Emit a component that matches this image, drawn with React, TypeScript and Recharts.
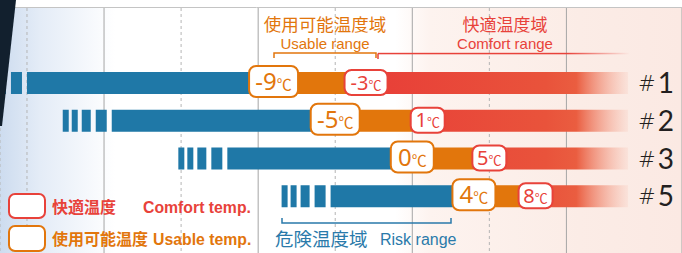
import React from 'react';
import { BarChart, Bar, XAxis, YAxis, CartesianGrid, LabelList } from 'recharts';

const categories = ['#1', '#2', '#3', '#5'];
const riskStart = [-25, -19.5, -12, -5.3];
const usableTemp = [-9, -5, 0, 4];
const comfortTemp = [-3, 1, 5, 8];
const comfortEnd = [14, 14, 14, 14];
const gridTicks = [-25, -20, -15, -10, -5, 0, 5, 10];

const BLUE = '#1f78a7';
const ORANGE = '#e2760c';
const RED = '#e8423a';

const data = categories.map((name, i) => ({
  name,
  risk: [riskStart[i], usableTemp[i]],
  usable: [usableTemp[i], comfortTemp[i]],
  comfort: [comfortTemp[i], comfortEnd[i]],
  usableT: usableTemp[i],
  comfortT: comfortTemp[i],
}));

// blue bar: four broken stripes before the solid part
const RiskShape = (p: any) => {
  const { x, y, width, height } = p;
  const stripes = [[-49, -43], [-40, -34], [-30, -21], [-16, -5]];
  return (
    <g>
      {stripes.map(([a, b], i) => (
        <rect key={i} x={x + a} y={y} width={b - a} height={height} fill={BLUE} />
      ))}
      <rect x={x} y={y} width={width} height={height} fill={BLUE} />
    </g>
  );
};

const boxBox = (p: any) => {
  const vb = p.viewBox || {};
  const x = p.x ?? vb.x;
  const y = p.y ?? vb.y;
  const w = p.width ?? vb.width;
  const h = p.height ?? vb.height;
  return { x, y, w, h };
};

const tempBox = (kind: 'usable' | 'comfort') => (p: any) => {
  const { x, y, h } = boxBox(p);
  const value = kind === 'usable' ? usableTemp[p.index] : comfortTemp[p.index];
  const orange = kind === 'usable';
  const neg = value < 0;
  const w = orange ? (neg ? 49 : 43) : neg ? 43 : 34;
  const bh = orange ? 31 : 25;
  const color = orange ? ORANGE : RED;
  const big = orange ? 24 : 20;
  const small = orange ? 15 : 13;
  const cy = y + h / 2 - (orange ? 1.5 : 0.5);
  return (
    <g>
      <rect x={x - w / 2} y={cy - bh / 2} width={w} height={bh} rx={7} fill="#fff" stroke={color} strokeWidth={2} />
      <text x={x} y={cy + big * 0.36} textAnchor="middle" fill={color} fontFamily="Noto Sans">
        <tspan fontSize={big}>{(neg ? '-' : '') + Math.abs(value)}</tspan>
        <tspan fontSize={small} fontFamily="Noto Sans CJK JP">℃</tspan>
      </text>
    </g>
  );
};

const rowName = (p: any) => {
  const { x, y, w, h } = boxBox(p);
  const name = categories[p.index];
  return (
    <text x={x + w + 10} y={y + h / 2 + 10} fill="#231f20">
      <tspan style={{ fontSize: 21, fontFamily: 'DejaVu Sans', fontWeight: 300 }} dy={-2}>#</tspan>
      <tspan dx={2} dy={2} style={{ fontSize: 28, fontFamily: 'Lato' }}>{name.slice(1)}</tspan>
    </text>
  );
};

const gridLine = (p: any) => {
  const dashed = p.index % 2 === 0;
  return (
    <line
      key={p.key}
      x1={p.x1}
      x2={p.x2}
      y1={8}
      y2={253}
      stroke={dashed ? '#b5b5b5' : '#a5a5a5'}
      strokeWidth={1}
      strokeDasharray={dashed ? '3 3' : undefined}
    />
  );
};

export default function App() {
  return (
    <div
      style={{
        position: 'fixed',
        left: 0,
        top: 0,
        width: 682,
        height: 253,
        overflow: 'hidden',
        background:
          'linear-gradient(to right, #cddcef 0px, #e4ecf7 40px, #ffffff 115px, #ffffff 395px, #fdf3ef 430px, #fbece6 580px, #fbe9e3 682px)',
      }}
    >
      <BarChart
        width={682}
        height={253}
        data={data}
        layout="vertical"
        margin={{ top: 64, right: 0, bottom: 38, left: 0 }}
        barSize={22}
        barGap={-22}
      >
        <defs>
          <linearGradient id="redFade" gradientUnits="userSpaceOnUse" x1={0} y1={0} x2={682} y2={0}>
            <stop offset="0.55" stopColor="#e83f38" />
            <stop offset="0.8" stopColor="#e9533b" />
            <stop offset="0.845" stopColor="#ea5d40" stopOpacity={1} />
            <stop offset="0.93" stopColor="#f4a48c" stopOpacity={0} />
          </linearGradient>
        </defs>
        <CartesianGrid horizontal={false} vertical={gridLine} />
        <XAxis type="number" domain={[-26.75, 17.5]} ticks={gridTicks} allowDataOverflow hide />
        <YAxis type="category" dataKey="name" hide />
        <Bar dataKey="risk" fill={BLUE} shape={RiskShape} isAnimationActive={false} />
        <Bar dataKey="usable" fill={ORANGE} isAnimationActive={false}>
          <LabelList dataKey="usableT" content={tempBox('usable')} />
        </Bar>
        <Bar dataKey="comfort" fill="url(#redFade)" isAnimationActive={false}>
          <LabelList dataKey="comfortT" content={tempBox('comfort')} />
          <LabelList dataKey="name" content={rowName} />
        </Bar>
      </BarChart>

      <svg width={682} height={253} style={{ position: 'absolute', left: 0, top: 0, pointerEvents: 'none' }}>
        <defs>
          <linearGradient id="lineFade" x1="0" x2="1" y1="0" y2="0">
            <stop offset="0.75" stopColor={RED} stopOpacity={1} />
            <stop offset="1" stopColor={RED} stopOpacity={0} />
          </linearGradient>
        </defs>
        <rect x={0} y={0} width={682} height={7} fill="#fff" />
        <line x1={0} x2={682} y1={7.5} y2={7.5} stroke="#c4c4c4" strokeWidth={1} />

        <g fontFamily="Noto Sans CJK JP">
          <text x={325} y={31} textAnchor="middle" fontSize={17.5} fill={ORANGE}>使用可能温度域</text>
          <text x={505} y={31} textAnchor="middle" fontSize={17} fill={RED}>快適温度域</text>
        </g>
        <g fontFamily="Liberation Sans">
          <text x={325} y={48.5} textAnchor="middle" fontSize={15} fill={ORANGE}>Usable range</text>
          <text x={505} y={48.5} textAnchor="middle" fontSize={15} fill={RED}>Comfort range</text>
        </g>
        <path d="M274 58 V53 H376 V58" fill="none" stroke={ORANGE} strokeWidth={1.5} />
        <path d="M378 59 V53.5" fill="none" stroke={RED} strokeWidth={1.5} />
        <rect x={378} y={52.8} width={252} height={1.5} fill="url(#lineFade)" />

        <path d="M282 218 V223 H451 V218" fill="none" stroke="#2a7aaa" strokeWidth={1.5} />
        <text x={275} y={246} fontSize={18.5} fill="#2a7aaa" fontFamily="Noto Sans CJK JP">危険温度域</text>
        <text x={380} y={245} fontSize={16} fill="#2a7aaa" fontFamily="Liberation Sans">Risk range</text>

        <rect x={9} y={194} width={36} height={24} rx={6} fill="#fff" stroke={RED} strokeWidth={2} />
        <rect x={9} y={226} width={36} height={25} rx={6} fill="#fff" stroke={ORANGE} strokeWidth={2} />
        <text x={52} y={213} fontSize={16} fontWeight="bold" fill={RED} fontFamily="Noto Sans CJK JP">快適温度</text>
        <text x={143} y={213} fontSize={15.8} fontWeight="bold" fill={RED} fontFamily="Liberation Sans">Comfort temp.</text>
        <text x={52} y={245} fontSize={16} fontWeight="bold" fill={ORANGE} fontFamily="Noto Sans CJK JP">使用可能温度</text>
        <text x={153} y={245} fontSize={15.8} fontWeight="bold" fill={ORANGE} fontFamily="Liberation Sans">Usable temp.</text>

        <polygon points="0,0 16,0 2,126 0,126" fill="#12202e" />
      </svg>
    </div>
  );
}
